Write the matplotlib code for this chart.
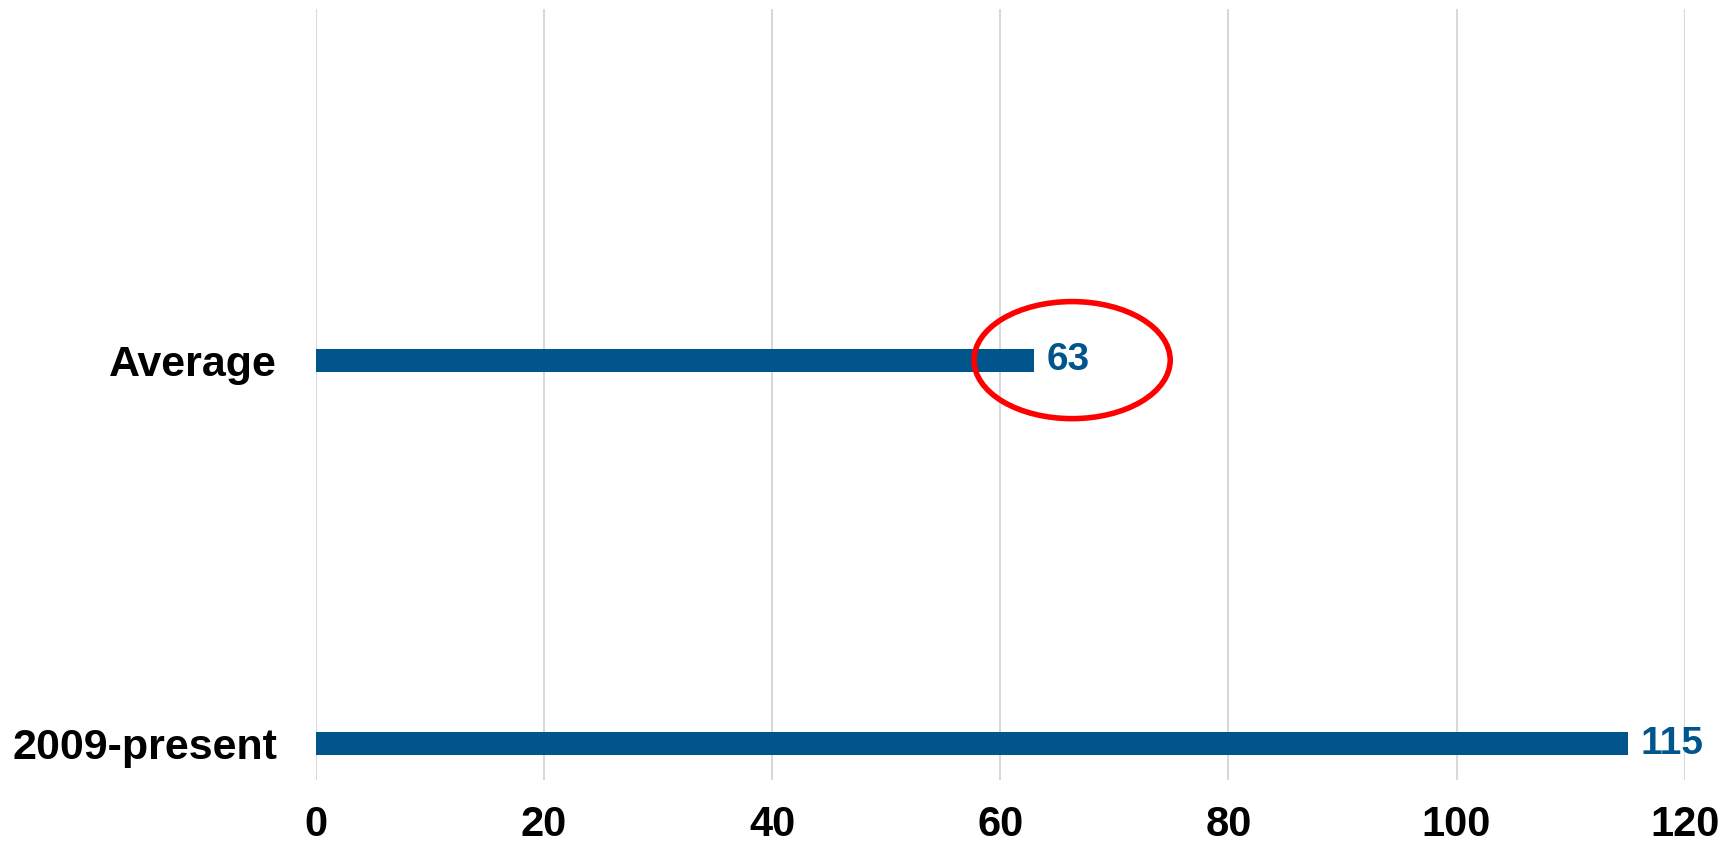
import matplotlib.pyplot as plt
from matplotlib.patches import Ellipse

# Data
categories = ['2009-present', 'Average']
values = [115, 63]
x_ticks = [0, 20, 40, 60, 80, 100, 120]

blue = '#00558C'

plt.rcParams['font.family'] = ['Liberation Sans', 'DejaVu Sans']

fig = plt.figure(figsize=(17.35, 8.43), dpi=100)
ax = fig.add_axes([0.182, 0.0747, 0.789, 0.9143])

pos = list(range(len(categories)))
ax.barh(pos, values, height=0.06, color=blue, zorder=3)

# value labels
for p, v in zip(pos, values):
    ax.text(v + 1.1, p, str(v), va='center', ha='left', color=blue,
            fontsize=28, fontweight='bold', zorder=4)

# red circle round the average
ax.add_patch(Ellipse((66.3, 1), 17.2, 0.305, fill=False, edgecolor='#FF0000',
                     linewidth=4, zorder=5))

ax.set_xlim(0, 120)
ax.set_ylim(-0.094, 1.914)
ax.set_xticks(x_ticks)
ax.set_yticks(pos)
ax.set_yticklabels(categories)
ax.tick_params(axis='x', length=0, labelsize=30, pad=18)
ax.tick_params(axis='y', length=0, labelsize=31, pad=28)
for lab in ax.get_xticklabels() + ax.get_yticklabels():
    lab.set_fontweight('bold')

ax.grid(axis='x', color='#D9D9D9', linewidth=1.5, zorder=0)
ax.set_axisbelow(True)
for s in ax.spines.values():
    s.set_visible(False)

fig.savefig('out.png', dpi=100)
